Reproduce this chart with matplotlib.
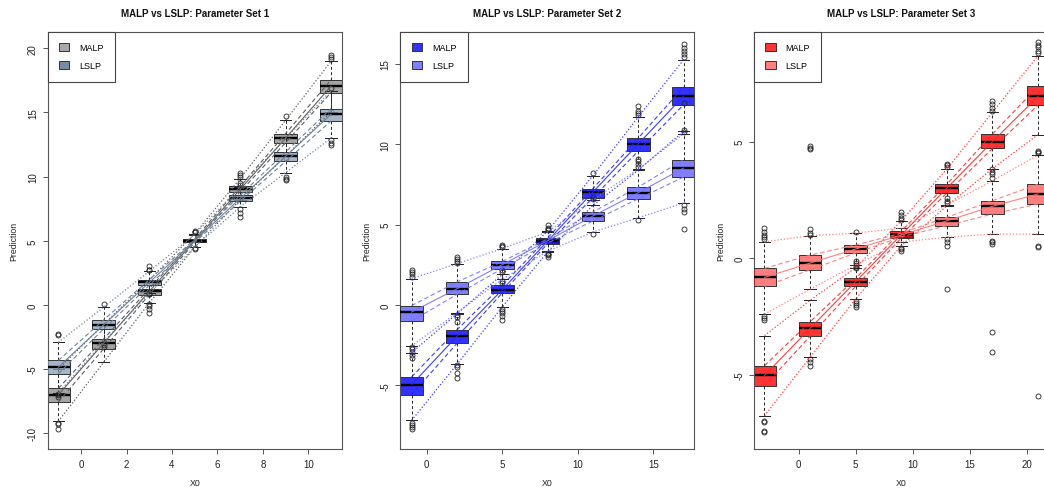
import matplotlib
matplotlib.use("Agg")
import matplotlib.pyplot as plt
from matplotlib.patches import Patch

plt.rcParams['font.family'] = ['Liberation Sans', 'DejaVu Sans']

# ---------------- data ----------------
titles = ["MALP vs LSLP: Parameter Set 1", "MALP vs LSLP: Parameter Set 2", "MALP vs LSLP: Parameter Set 3"]
group_names = ["MALP", "LSLP"]

# Panel 1
p1_x = [-1, 1, 3, 5, 7, 9, 11]
p1_malp_med = [-7.00, -2.96, 1.06, 5.00, 9.01, 13.00, 17.05]
p1_malp_q1 = [-7.55, -3.40, 0.80, 4.88, 8.81, 12.65, 16.55]
p1_malp_q3 = [-6.50, -2.63, 1.27, 5.14, 9.24, 13.35, 17.55]
p1_malp_lo = [-9.07, -4.44, 0.16, 4.50, 8.20, 11.60, 15.05]
p1_malp_hi = [-5.00, -1.50, 1.95, 5.55, 9.85, 14.39, 18.99]
p1_malp_out = [[-9.2, -9.3, -9.69], [], [0.05, -0.1, -0.3, -0.6], [5.65, 5.72, 5.8],
               [10.0, 10.15, 10.3], [14.73, 11.45], [19.2, 19.3, 19.45, 15.0]]
p1_lslp_med = [-4.84, -1.54, 1.76, 5.00, 8.30, 11.58, 14.86]
p1_lslp_q1 = [-5.35, -1.85, 1.53, 4.88, 8.07, 11.19, 14.34]
p1_lslp_q3 = [-4.32, -1.15, 1.97, 5.12, 8.54, 11.92, 15.30]
p1_lslp_lo = [-6.85, -2.85, 0.90, 4.52, 7.64, 10.31, 13.00]
p1_lslp_hi = [-2.91, -0.16, 2.63, 5.48, 9.22, 12.98, 16.70]
p1_lslp_out = [[-2.25, -2.35, -6.95, -7.05, -7.2], [0.08, -3.0, -3.12, -3.3],
               [2.7, 2.75, 3.05, 0.82, 0.85], [4.4, 4.45], [9.35, 9.5, 7.45, 7.2, 6.86],
               [9.95, 9.8, 9.71], [16.9, 12.83, 12.6, 12.44]]

# Panel 2
p2_x = [-1, 2, 5, 8, 11, 14, 17]
p2_malp_med = [-4.96, -1.95, 0.95, 3.98, 7.03, 10.02, 13.00]
p2_malp_q1 = [-5.58, -2.39, 0.75, 3.81, 6.68, 9.58, 12.46]
p2_malp_q3 = [-4.48, -1.54, 1.22, 4.17, 7.24, 10.39, 13.57]
p2_malp_lo = [-7.18, -3.70, -0.12, 3.30, 6.20, 8.40, 10.80]
p2_malp_hi = [-2.97, -0.55, 1.90, 4.60, 8.05, 11.70, 15.26]
p2_malp_out = [[-7.32, -7.45, -7.6, -7.74], [-3.75, -3.85, -4.2, -4.54],
               [-0.23, -0.35, -0.5, -0.7, -0.95, 2.05, 2.2], [4.7, 4.8, 4.95, 3.2, 3.1, 2.99],
               [8.2], [11.8, 11.95, 12.1, 12.4], [15.43, 15.6, 15.8, 16.0, 16.26]]
p2_lslp_med = [-0.44, 1.01, 2.51, 4.00, 5.54, 6.99, 8.52]
p2_lslp_q1 = [-1.00, 0.66, 2.26, 3.85, 5.23, 6.61, 7.96]
p2_lslp_q3 = [-0.04, 1.43, 2.71, 4.12, 5.79, 7.34, 9.04]
p2_lslp_lo = [-2.55, -0.48, 1.60, 3.35, 4.54, 5.43, 6.35]
p2_lslp_hi = [1.64, 2.57, 3.51, 4.55, 6.55, 8.45, 10.65]
p2_lslp_out = [[1.75, 1.9, 2.05, 2.2, -2.6, -2.75, -2.9, -3.1, -3.3],
               [2.62, 2.75, 2.85, 2.98, -0.6, -0.75, -1.07], [3.6, 3.7, 3.76, 1.5, 1.39],
               [4.65, 3.2], [6.6, 6.7, 4.44], [8.6, 8.8, 8.95, 9.1, 5.3],
               [10.75, 10.9, 12.57, 6.2, 6.0, 5.8, 4.75]]

# Panel 3
p3_x = [-3, 1, 5, 9, 13, 17, 21]
p3_malp_med = [-5.02, -3.00, -1.00, 1.01, 3.01, 5.00, 6.94]
p3_malp_q1 = [-5.46, -3.34, -1.20, 0.86, 2.80, 4.71, 6.57]
p3_malp_q3 = [-4.60, -2.72, -0.86, 1.16, 3.18, 5.33, 7.37]
p3_malp_lo = [-6.75, -4.24, -1.74, 0.54, 2.25, 3.85, 5.30]
p3_malp_hi = [-3.31, -1.80, -0.40, 1.61, 3.83, 6.26, 8.68]
p3_malp_out = [[-6.96, -7.0, -7.4, -7.46], [-4.32, -4.45, -4.6], [-0.3, -0.2, -0.1, -1.82, -1.9, -2.0, -2.1],
               [1.64, 1.75, 1.85, 1.99, 0.45, 0.4, 0.3], [3.91, 3.98, 4.05], [6.3, 6.45, 6.6, 6.74],
               [8.8, 8.9, 9.05, 9.15, 9.26]]
p3_lslp_med = [-0.82, -0.20, 0.40, 1.00, 1.61, 2.23, 2.76]
p3_lslp_q1 = [-1.20, -0.49, 0.23, 0.92, 1.40, 1.90, 2.33]
p3_lslp_q3 = [-0.43, 0.14, 0.57, 1.08, 1.76, 2.47, 3.18]
p3_lslp_lo = [-2.39, -1.32, -0.29, 0.70, 0.90, 1.04, 1.04]
p3_lslp_hi = [0.71, 0.97, 1.08, 1.30, 2.28, 3.33, 4.42]
p3_lslp_out = [[0.83, 0.9, 1.0, 1.11, 1.31, -2.46, -2.55, -2.63], [1.0, 1.1, 1.25, 4.69, 4.75, 4.83],
               [1.12, -0.35, -0.4], [], [2.37, 2.45, 2.57, 0.83, 0.7, 0.54, -1.32],
               [3.45, 3.6, 3.7, 3.83, 0.76, 0.7, 0.61, -3.15, -4.03], [4.5, 4.55, 4.62, 0.51, 0.47, -5.89]]

xlims = [(-1.47, 11.47), (-1.745, 17.71), (-3.92, 21.87)]
ylims = [(-11.22, 21.27), (-8.96, 16.99), (-8.17, 9.70)]
xticks = [[0, 2, 4, 6, 8, 10], [0, 5, 10, 15], [0, 5, 10, 15, 20]]
yticks = [[-10, -5, 0, 5, 10, 15, 20], [-5, 0, 5, 10, 15], [-5, 0, 5]]
box_widths = [1.0, 1.5, 2.0]

box_colors = [[(0.58, 0.58, 0.58, 0.85), (0.53, 0.62, 0.72, 0.75)],
              [(0.0, 0.0, 1.0, 0.80), (0.0, 0.0, 1.0, 0.50)],
              [(1.0, 0.0, 0.0, 0.80), (1.0, 0.0, 0.0, 0.50)]]
legend_colors = [["#A9A9A9", "#7A8CA3"],
                 [(0.0, 0.0, 1.0, 0.80), (0.0, 0.0, 1.0, 0.50)],
                 [(1.0, 0.0, 0.0, 0.80), (1.0, 0.0, 0.0, 0.50)]]
line_colors = [["#5E5E5E", "#6E8298"],
               [(0.15, 0.15, 1.0, 0.9), (0.45, 0.45, 1.0, 0.9)],
               [(1.0, 0.15, 0.15, 0.9), (1.0, 0.45, 0.45, 0.9)]]

panels = [
    (p1_x, [(p1_malp_med, p1_malp_q1, p1_malp_q3, p1_malp_lo, p1_malp_hi, p1_malp_out),
            (p1_lslp_med, p1_lslp_q1, p1_lslp_q3, p1_lslp_lo, p1_lslp_hi, p1_lslp_out)]),
    (p2_x, [(p2_malp_med, p2_malp_q1, p2_malp_q3, p2_malp_lo, p2_malp_hi, p2_malp_out),
            (p2_lslp_med, p2_lslp_q1, p2_lslp_q3, p2_lslp_lo, p2_lslp_hi, p2_lslp_out)]),
    (p3_x, [(p3_malp_med, p3_malp_q1, p3_malp_q3, p3_malp_lo, p3_malp_hi, p3_malp_out),
            (p3_lslp_med, p3_lslp_q1, p3_lslp_q3, p3_lslp_lo, p3_lslp_hi, p3_lslp_out)]),
]

# ---------------- figure ----------------
W, H = 1044, 489
fig = plt.figure(figsize=(W / 100, H / 100), dpi=100)
lefts = [47.7, 400.3, 754.0]
ax_w, ax_h, ax_bottom = 294.0, 417.0, 39.0
frame_col = "#555555"

for k, (xs, groups) in enumerate(panels):
    ax = fig.add_axes([lefts[k] / W, ax_bottom / H, ax_w / W, ax_h / H])
    w = box_widths[k]
    for g, (med, q1, q3, lo, hi, out) in enumerate(groups):
        stats = [dict(med=med[i], q1=q1[i], q3=q3[i], whislo=lo[i], whishi=hi[i], fliers=out[i])
                 for i in range(len(xs))]
        ax.bxp(stats, positions=xs, widths=w, capwidths=w * 0.5, patch_artist=True,
               manage_ticks=False, zorder=2 + g,
               boxprops=dict(facecolor=box_colors[k][g], edgecolor="#333333", linewidth=0.7),
               medianprops=dict(color="black", linewidth=1.7, solid_capstyle="butt"),
               whiskerprops=dict(color="#222222", linestyle=(0, (3, 2.5)), linewidth=0.7),
               capprops=dict(color="#222222", linewidth=0.7),
               flierprops=dict(marker="o", markerfacecolor="none", markeredgecolor="#222222",
                               markersize=3.6, markeredgewidth=0.6, linestyle="none"))
    for g, (med, q1, q3, lo, hi, out) in enumerate(groups):
        lc = line_colors[k][g]
        ax.plot(xs, med, color=lc, linestyle="-", linewidth=0.8, zorder=5)
        for s in (q1, q3):
            ax.plot(xs, s, color=lc, linestyle=(0, (4, 2.5)), linewidth=0.8, zorder=5)
        for s in (lo, hi):
            ax.plot(xs, s, color=lc, linestyle=(0, (1, 1.6)), linewidth=0.9, zorder=5)

    ax.set_xlim(*xlims[k])
    ax.set_ylim(*ylims[k])
    ax.set_xticks(xticks[k])
    ax.set_yticks(yticks[k])
    ax.set_xticklabels([str(t) for t in xticks[k]])
    ax.set_yticklabels([str(t) for t in yticks[k]], rotation=90, va="center")
    ax.tick_params(direction="out", length=3.6, width=0.7, color=frame_col, labelsize=7,
                   labelcolor="#222222")
    ax.tick_params(axis="x", pad=3.5)
    ax.tick_params(axis="y", pad=3.5)
    for sp in ax.spines.values():
        sp.set_color(frame_col)
        sp.set_linewidth(0.8)

    ax.set_xlabel("X0", fontsize=6.3, color="#222222", va="center", ha="center")
    ax.xaxis.set_label_coords(0.5, -34 / ax_h)
    ax.set_ylabel("Prediction", fontsize=6.3, color="#222222", va="center", ha="center")
    ax.yaxis.set_label_coords(-33.5 / ax_w, 0.5)
    ax.text(0.5, 1 + 19 / ax_h, titles[k], transform=ax.transAxes, ha="center", va="center",
            fontsize=7, fontweight="bold", color="#111111")

    handles = [Patch(facecolor=legend_colors[k][g], edgecolor="#333333", linewidth=0.7,
                     label=group_names[g]) for g in range(2)]
    leg = ax.legend(handles=handles, loc="upper left", borderaxespad=0, fontsize=6.5,
                    frameon=True, fancybox=False, framealpha=1, edgecolor="#444444",
                    handlelength=1.15, handleheight=0.9, handletextpad=1.1,
                    borderpad=1.25, labelspacing=1.0)
    leg.get_frame().set_linewidth(0.8)
    leg.set_zorder(10)

fig.savefig("out.png", dpi=100)
